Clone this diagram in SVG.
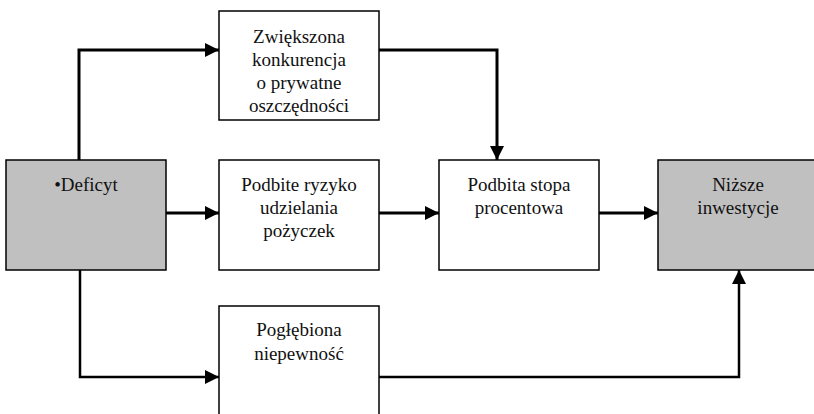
<svg xmlns="http://www.w3.org/2000/svg" width="814" height="414" viewBox="0 0 814 414">
<defs>
<marker id="arr" markerWidth="14" markerHeight="14" refX="14" refY="7" orient="auto" markerUnits="userSpaceOnUse">
<path d="M0,0 L14,7 L0,14 Z" fill="#000"/>
</marker>
<style>
.box{fill:#fff;stroke:#000;stroke-width:1.5}
.gray{fill:#c0c0c0;stroke:#000;stroke-width:1.5}
.t{font-family:'Liberation Serif','Times New Roman',serif;font-size:19px;fill:#111;text-anchor:middle}
.c{fill:none;stroke:#000;stroke-width:3}
.c2{fill:none;stroke:#000;stroke-width:2.5}
</style>
</defs>
<rect width="814" height="414" fill="#fff"/>
<g id="connectors">
<polyline class="c" points="79,160 79,50 219,50" marker-end="url(#arr)"/>
<polyline class="c" points="379,50 497,50 497,160" marker-end="url(#arr)"/>
<line class="c" x1="166" y1="213" x2="219" y2="213" marker-end="url(#arr)"/>
<line class="c" x1="379" y1="213" x2="439" y2="213" marker-end="url(#arr)"/>
<line class="c" x1="599" y1="213" x2="658" y2="213" marker-end="url(#arr)"/>
<polyline class="c2" points="80,270 80,377 219,377" marker-end="url(#arr)"/>
<polyline class="c2" points="379,377 739,377 739,270" marker-end="url(#arr)"/>
</g>
<g id="zwiekszona">
<rect class="box" x="219" y="11" width="160" height="109"/>
<text class="t" x="299" y="43">Zwiększona</text>
<text class="t" x="299" y="66">konkurencja</text>
<text class="t" x="299" y="89">o prywatne</text>
<text class="t" x="299" y="112">oszczędności</text>
</g>
<g id="deficyt">
<rect class="gray" x="6" y="160" width="160" height="110"/>
<text class="t" x="86" y="191">•Deficyt</text>
</g>
<g id="ryzyko">
<rect class="box" x="219" y="160" width="160" height="110"/>
<text class="t" x="299" y="191">Podbite ryzyko</text>
<text class="t" x="299" y="214">udzielania</text>
<text class="t" x="299" y="237">pożyczek</text>
</g>
<g id="stopa">
<rect class="box" x="439" y="160" width="160" height="110"/>
<text class="t" x="519" y="191">Podbita stopa</text>
<text class="t" x="519" y="214">procentowa</text>
</g>
<g id="inwestycje">
<rect class="gray" x="658" y="160" width="160" height="110"/>
<text class="t" x="738" y="191">Niższe</text>
<text class="t" x="738" y="214">inwestycje</text>
</g>
<g id="niepewnosc">
<rect class="box" x="219" y="306" width="160" height="120"/>
<text class="t" x="299" y="336">Pogłębiona</text>
<text class="t" x="299" y="360">niepewność</text>
</g>
</svg>
